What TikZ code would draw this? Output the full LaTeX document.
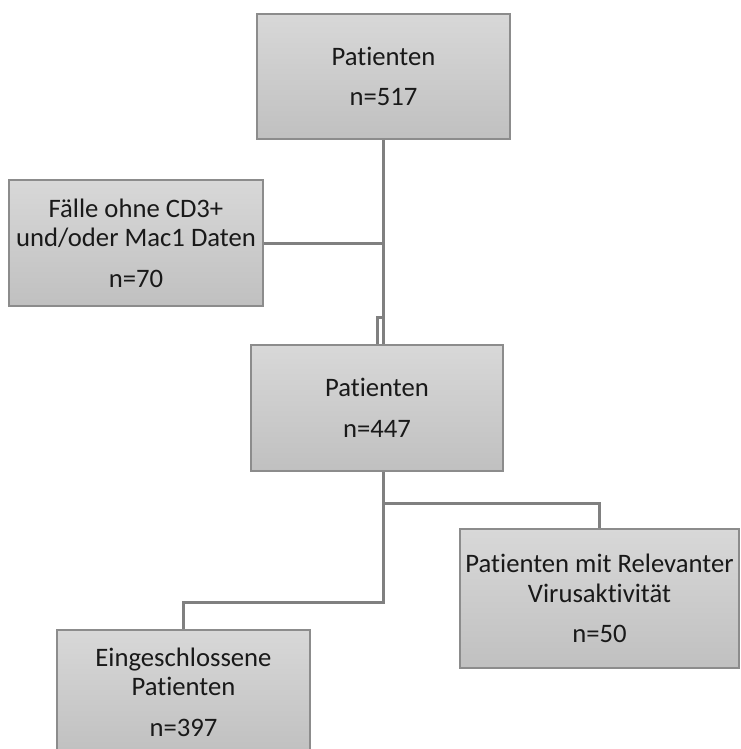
\documentclass[tikz,border=0pt]{standalone}
\usepackage{fontspec}
\setmainfont{Carlito}[Ligatures=NoCommon]
\usetikzlibrary{calc}
\definecolor{boxtop}{RGB}{216,216,216}
\definecolor{boxbot}{RGB}{192,192,192}
\definecolor{boxline}{RGB}{140,140,140}
\definecolor{linegray}{RGB}{128,128,128}
\begin{document}
\begin{tikzpicture}[x=1pt, y=-1pt,
        box/.style={draw=boxline, line width=1.5pt, top color=boxtop, bottom color=boxbot, minimum width=253pt, minimum height=125pt, inner sep=0pt, align=center, text=black!90, font=\fontsize{26.67}{29.5}\selectfont},
        conn/.style={draw=linegray, line width=3pt}
    ]
        \useasboundingbox (0,0) rectangle (740,749);
        \node[box] (all) at (383.5,76.5) {Patienten\\[11pt]n=517};
        \node[box, minimum width=254pt, minimum height=126pt] (excl) at (136,243) {Fälle ohne CD3+\\und/oder Mac1 Daten\\[11pt]n=70};
        \node[box, minimum width=252pt, minimum height=126pt] (mid) at (377,408) {Patienten\\[11pt]n=447};
        \node[box, minimum width=279pt, minimum height=139pt] (vir) at (599.5,598.5) {Patienten mit Relevanter\\Virusaktivität\\[11pt]n=50};
        \node[box, minimum height=124pt] (incl) at (183.5,692) {Eingeschlossene\\Patienten\\[11pt]n=397};

        \draw[conn] (all.south) |- ($(mid.north)+(0,-27)$) -- (mid.north);
        \draw[conn] (excl.east) -- (excl.east -| all.south) -- (mid.north -| all.south);
        \draw[conn] (mid.south -| all.south) |- ($(incl.north)+(0,-27)$) -- (incl.north);
        \draw[conn] ($(mid.south -| all.south)+(0,32)$) -| (vir.north);
    \end{tikzpicture}
\end{document}
